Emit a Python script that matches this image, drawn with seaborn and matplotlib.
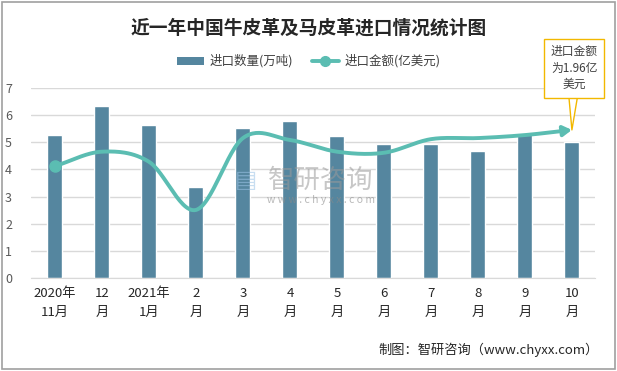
import numpy as np
import pandas as pd
import matplotlib
matplotlib.use("Agg")
import matplotlib.pyplot as plt
import seaborn as sns
from matplotlib.lines import Line2D
from matplotlib.patches import Patch, Rectangle

# data
months = ["2020年\n11月", "12\n月", "2021年\n1月", "2\n月", "3\n月", "4\n月",
          "5\n月", "6\n月", "7\n月", "8\n月", "9\n月", "10\n月"]
qty = [5.26, 6.33, 5.63, 3.35, 5.52, 5.78, 5.23, 4.94, 4.94, 4.67, 5.30, 5.01]
amount = [4.12, 4.65, 4.28, 2.51, 5.15, 5.08, 4.65, 4.61, 5.11, 5.15, 5.26, 5.45]

sns.set_style("white")
plt.rcParams["font.family"] = ["Noto Sans CJK SC", "DejaVu Sans"]

bar_color = "#55869F"
line_color = "#5BBDB2"

fig = plt.figure(figsize=(6.17, 3.71), dpi=100)
fig.patches.append(Rectangle((0.003, 0.005), 0.994, 0.99, transform=fig.transFigure,
                             fill=False, ec="#A0A0A0", lw=1.2))
ax = fig.add_axes([0.051, 0.2499, 0.914, 0.5137])

df = pd.DataFrame({"month": months, "qty": qty})
sns.barplot(data=df, x="month", y="qty", color=bar_color, width=0.32,
            saturation=1, ax=ax, zorder=2)

# smoothed line (Catmull-Rom through the data points, like Excel smoothing)
def smooth(xs, ys, n=30):
    xs = np.asarray(xs, float); ys = np.asarray(ys, float)
    px = np.concatenate([[2 * xs[0] - xs[1]], xs, [2 * xs[-1] - xs[-2]]])
    py = np.concatenate([[2 * ys[0] - ys[1]], ys, [2 * ys[-1] - ys[-2]]])
    ox, oy = [], []
    t = np.linspace(0, 1, n)
    for i in range(1, len(px) - 2):
        for arr, out in ((px, ox), (py, oy)):
            p0, p1, p2, p3 = arr[i - 1], arr[i], arr[i + 1], arr[i + 2]
            out.extend(0.5 * (2 * p1 + (-p0 + p2) * t + (2 * p0 - 5 * p1 + 4 * p2 - p3) * t ** 2
                              + (-p0 + 3 * p1 - 3 * p2 + p3) * t ** 3))
    return np.array(ox), np.array(oy)

sx, sy = smooth(range(len(amount)), amount)
ax.plot(sx[:-4], sy[:-4], color=line_color, lw=2.8, zorder=3, solid_capstyle="round")
ax.plot([0], [amount[0]], "o", color=line_color, ms=8, zorder=4)
ax.annotate("", xy=(sx[-1], sy[-1]), xytext=(sx[-6], sy[-6]),
            arrowprops=dict(arrowstyle="-|>,head_length=0.5,head_width=0.3",
                            color=line_color, lw=2.8, shrinkA=0, shrinkB=0), zorder=4)

ax.set_xlim(-0.5, len(months) - 0.5)
ax.set_ylim(0, 7)
ax.set_yticks(range(0, 8))
ax.yaxis.grid(True, color="#D9D9D9", lw=1)
ax.set_axisbelow(True)
for s in ["top", "right", "left"]:
    ax.spines[s].set_visible(False)
ax.spines["bottom"].set_color("#D9D9D9")
ax.set_xlabel("")
ax.set_ylabel("")
ax.tick_params(axis="y", length=0, labelsize=9, labelcolor="#595959", pad=14)
ax.tick_params(axis="x", length=0, labelsize=9.5, labelcolor="#262626", pad=6)
for lab in ax.get_xticklabels():
    lab.set_linespacing(1.6)

fig.text(0.5, 0.925, "近一年中国牛皮革及马皮革进口情况统计图", ha="center", va="center",
         fontsize=13.5, fontweight="bold", color="#262626")

handles = [Patch(facecolor=bar_color, edgecolor="none"),
           Line2D([0], [0], color=line_color, lw=2.8, marker="o", markevery=[0], ms=7)]
fig.legend(handles, ["进口数量(万吨)", "进口金额(亿美元)"], loc="center",
           bbox_to_anchor=(0.5, 0.835), ncol=2, frameon=False, fontsize=9,
           handlelength=2.2, handleheight=0.6, columnspacing=1.5, handletextpad=0.4,
           labelcolor="#404040")

ax.annotate("进口金额\n为1.96亿\n美元", xy=(11, amount[-1]), xytext=(11.05, 7.72),
            ha="center", va="center", fontsize=8.5, color="#404040", annotation_clip=False,
            linespacing=1.35,
            bbox=dict(boxstyle="square,pad=0.55", fc="white", ec="#F2B800", lw=1),
            arrowprops=dict(arrowstyle="wedge,tail_width=0.7", fc="white", ec="#F2B800", lw=1,
                            shrinkA=0, shrinkB=0), zorder=5)

# faint watermark over the bars
fig.text(0.52, 0.515, "智研咨询", ha="center", va="center", fontsize=19,
         color="#9A9A9A", alpha=0.55, zorder=10)
fig.text(0.52, 0.462, "w w w . c h y x x . c o m", ha="center", va="center", fontsize=7.5,
         color="#8A8A8A", alpha=0.6, zorder=10)
fig.text(0.398, 0.515, "▤", ha="center", va="center", fontsize=17,
         color="#9CC3E6", alpha=0.55, zorder=10, family="DejaVu Sans")

fig.text(0.97, 0.058, "制图：智研咨询（www.chyxx.com）", ha="right", va="center",
         fontsize=9.5, color="#262626")

fig.savefig("out.png", dpi=100)
